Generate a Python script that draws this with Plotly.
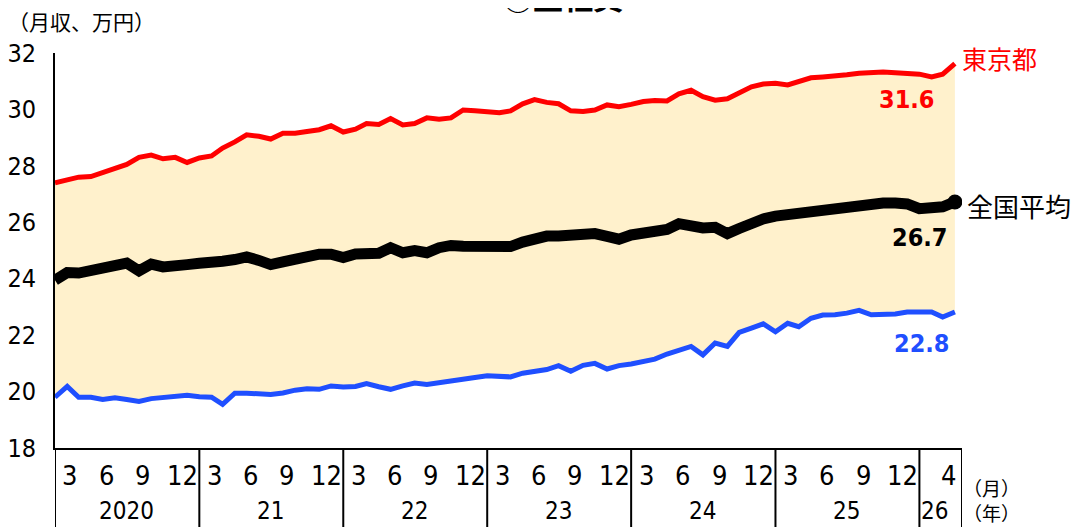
import pandas as pd
import plotly.graph_objects as go

# monthly points, Jan 2020 - Apr 2026
months = pd.date_range("2020-01-01", "2026-04-01", freq="MS")

tokyo = [27.40, 27.50, 27.60, 27.62, 27.75, 27.90, 28.05, 28.30, 28.38, 28.25,
         28.30, 28.12, 28.28, 28.35, 28.63, 28.85, 29.10, 29.05, 28.95, 29.16,
         29.16, 29.22, 29.28, 29.42, 29.20, 29.30, 29.50, 29.47, 29.68, 29.45,
         29.50, 29.70, 29.65, 29.70, 29.98, 29.95, 29.93, 29.88, 29.95, 30.20,
         30.35, 30.25, 30.20, 29.95, 29.93, 29.98, 30.16, 30.10, 30.18, 30.28,
         30.32, 30.30, 30.55, 30.68, 30.45, 30.33, 30.38, 30.60, 30.80, 30.90,
         30.93, 30.87, 31.00, 31.12, 31.15, 31.17, 31.23, 31.28, 31.30, 31.33,
         31.30, 31.28, 31.25, 31.15, 31.25, 31.62]

national = [23.95, 24.22, 24.20, 24.30, 24.40, 24.53, 24.55, 24.28, 24.52, 24.42,
            24.42, 24.50, 24.55, 24.55, 24.62, 24.68, 24.77, 24.65, 24.50, 24.60,
            24.72, 24.80, 24.87, 24.87, 24.75, 24.88, 24.85, 24.90, 25.10, 24.92,
            25.00, 24.92, 25.10, 25.18, 25.15, 25.13, 25.12, 25.12, 25.14, 25.30,
            25.45, 25.51, 25.51, 25.51, 25.52, 25.60, 25.50, 25.40, 25.55, 25.62,
            25.60, 25.75, 25.95, 25.85, 25.80, 25.82, 25.60, 25.78, 26.00, 26.12,
            26.22, 26.28, 26.33, 26.35, 26.42, 26.52, 26.58, 26.62, 26.65, 26.68,
            26.68, 26.65, 26.48, 26.55, 26.55, 26.72]

lowest = [19.80, 20.18, 19.80, 19.80, 19.72, 19.78, 19.72, 19.65, 19.75, 19.80,
          19.85, 19.87, 19.82, 19.80, 19.55, 19.94, 19.94, 19.94, 19.90, 19.95,
          20.05, 20.10, 20.08, 20.20, 20.16, 20.18, 20.28, 20.17, 20.08, 20.20,
          20.30, 20.25, 20.32, 20.40, 20.45, 20.50, 20.56, 20.55, 20.52, 20.65,
          20.72, 20.78, 20.92, 20.72, 20.93, 21.00, 20.80, 20.92, 20.98, 21.06,
          21.15, 21.33, 21.48, 21.60, 21.30, 21.72, 21.60, 22.10, 22.25, 22.40,
          22.12, 22.42, 22.30, 22.60, 22.71, 22.72, 22.78, 22.88, 22.72, 22.72,
          22.75, 22.82, 22.82, 22.82, 22.64, 22.82]

years = ["2020", "21", "22", "23", "24", "25"]
month_ticks = ["3", "6", "9", "12"]
last_labels = ["31.6", "26.7", "22.8"]

RED = "#ff0000"
BLUE = "#1f4fff"
FILL = "#fff1cc"
NUM_FONT = "Liberation Sans Narrow, DejaVu Sans Condensed, Noto Sans"
JP_FONT = "Noto Sans CJK JP"

# the page body adds an 8px offset, so the figure is 8px smaller each way
FIG_W, FIG_H = 1073, 519
M_L, M_T = 47, 45
PLOT_W, PLOT_H = 907, 395

fig = go.Figure()

# shaded band between the lowest and Tokyo lines
fig.add_trace(go.Scatter(x=months, y=lowest, mode="lines",
                         line=dict(width=0), hoverinfo="skip", showlegend=False))
fig.add_trace(go.Scatter(x=months, y=tokyo, mode="lines", fill="tonexty",
                         fillcolor=FILL, line=dict(width=0),
                         hoverinfo="skip", showlegend=False))

fig.add_trace(go.Scatter(x=months, y=tokyo, mode="lines", name="東京都",
                         line=dict(color=RED, width=5)))
fig.add_trace(go.Scatter(x=months, y=lowest, mode="lines", name="最低",
                         line=dict(color=BLUE, width=5)))
fig.add_trace(go.Scatter(x=months, y=national, mode="lines", name="全国平均",
                         line=dict(color="black", width=11)))
fig.add_trace(go.Scatter(x=[months[-1]], y=[national[-1]], mode="markers",
                         marker=dict(color="black", size=15), showlegend=False))

fig.update_xaxes(range=["2020-01-01", "2026-04-19"], showline=True,
                 linecolor="black", linewidth=2, showgrid=False,
                 showticklabels=False, ticks="", zeroline=False,
                 automargin=False)
fig.update_yaxes(range=[18, 32], tickvals=list(range(18, 33, 2)),
                 showline=True, linecolor="black", linewidth=2,
                 showgrid=False, zeroline=False, ticks="",
                 ticklabelstandoff=12, automargin=False,
                 tickfont=dict(family=NUM_FONT, size=25, color="black"))

# year separators below the axis
shapes = []
for y in range(2020, 2027):
    shapes.append(dict(type="line", xref="x", yref="paper",
                       x0=f"{y}-01-01", x1=f"{y}-01-01", y0=0, y1=-0.21,
                       line=dict(color="black", width=2)))
shapes.append(dict(type="line", xref="x", yref="paper",
                   x0="2026-04-19", x1="2026-04-19", y0=0, y1=-0.21,
                   line=dict(color="black", width=2)))

annotations = []
tick_days = ["02-08", "05-11", "08-11", "11-19"]
for i, yr in enumerate(years):
    full = 2020 + i
    for lbl, md in zip(month_ticks, tick_days):
        annotations.append(dict(x=f"{full}-{md}", y=-0.07, xref="x", yref="paper",
                                text=lbl, showarrow=False, yanchor="middle",
                                font=dict(family=NUM_FONT, size=27, color="black")))
    annotations.append(dict(x=f"{full}-07-01", y=-0.1595, xref="x", yref="paper",
                            text=yr, showarrow=False, yanchor="middle",
                            font=dict(family=NUM_FONT, size=24, color="black")))
annotations.append(dict(x="2026-03-16", y=-0.07, xref="x", yref="paper",
                        text="4", showarrow=False, yanchor="middle",
                        font=dict(family=NUM_FONT, size=27, color="black")))
annotations.append(dict(x="2026-02-08", y=-0.1595, xref="x", yref="paper",
                        text="26", showarrow=False, yanchor="middle",
                        font=dict(family=NUM_FONT, size=24, color="black")))
annotations.append(dict(x=(961 - 55) / PLOT_W, y=(448 - 500) / PLOT_H,
                        xref="paper", yref="paper", text="（月）<br>（年）",
                        showarrow=False, xanchor="left", yanchor="middle",
                        align="left",
                        font=dict(family=JP_FONT, size=19, color="black")))

# unit and title
annotations.append(dict(x=-M_L / PLOT_W, y=1.08, xref="paper", yref="paper",
                        text="（月収、万円）", showarrow=False, xanchor="left",
                        yanchor="middle", xshift=-2,
                        font=dict(family=JP_FONT, size=21, color="black")))
annotations.append(dict(x=0.56, y=1.084, xref="paper", yref="paper",
                        text="<b>①正社員</b>", showarrow=False, yanchor="bottom",
                        font=dict(family=JP_FONT, size=30, color="black")))

# series names at the line ends
annotations.append(dict(x=months[-1], y=tokyo[-1], xref="x", yref="y",
                        text="東京都", showarrow=False, xanchor="left",
                        xshift=5, yshift=6,
                        font=dict(family=JP_FONT, size=25, color=RED)))
annotations.append(dict(x=months[-1], y=national[-1], xref="x", yref="y",
                        text="全国平均", showarrow=False, xanchor="left",
                        xshift=10, yshift=-4,
                        font=dict(family=JP_FONT, size=26, color="black")))

# latest values
for val, lbl, col, dx, dy in zip([tokyo[-1], national[-1], lowest[-1]],
                                 last_labels, [RED, "black", BLUE],
                                 [-18, -5, -3], [-36, -36, -31]):
    annotations.append(dict(x=months[-1], y=val, xref="x", yref="y",
                            text=f"<b>{lbl}</b>", showarrow=False,
                            xanchor="right", xshift=dx, yshift=dy,
                            font=dict(family=NUM_FONT, size=25, color=col)))

fig.update_layout(
    width=FIG_W, height=FIG_H,
    margin=dict(l=M_L, r=FIG_W - M_L - PLOT_W, t=M_T, b=FIG_H - M_T - PLOT_H),
    paper_bgcolor="white", plot_bgcolor="white",
    showlegend=False,
    shapes=shapes,
    annotations=annotations,
)

fig.write_html("out.html")
